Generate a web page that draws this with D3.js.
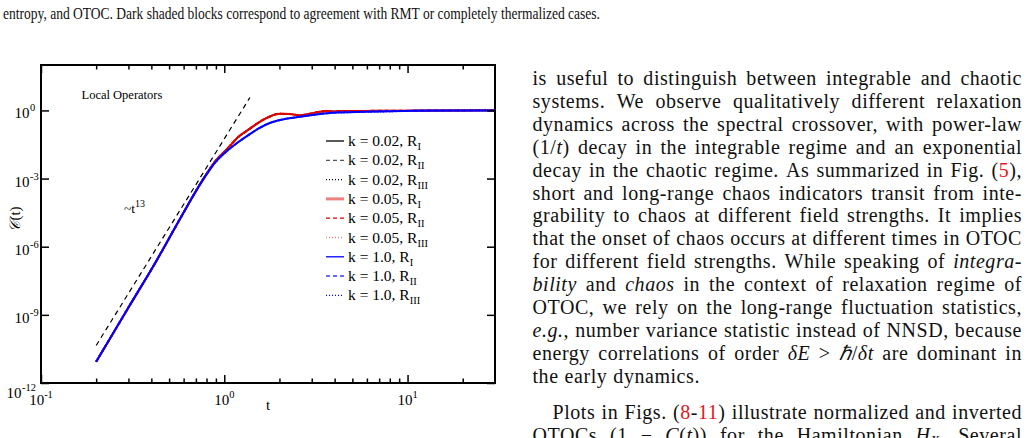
<!DOCTYPE html>
<html><head><meta charset="utf-8">
<script src="https://cdn.jsdelivr.net/npm/d3@7"></script>
<style>body{margin:0;background:#fff;overflow:hidden}svg{display:block}</style>
</head><body>
<svg id="c" width="1029" height="438"></svg>
<script>
// ---------- data ----------
const tK002 = [0.2, 0.3, 0.43, 0.57, 0.77, 0.9, 1.03, 1.2, 1.38, 1.56, 1.77, 2.0, 2.28, 2.58, 2.92, 3.31, 3.6, 3.9, 4.5, 6, 10, 20, 30];
const cK002 = [8.7e-12, 2.1e-9, 2.7e-7, 1.55e-5, 1.0e-3, 6.3e-3, 1.9e-2, 7.1e-2, 0.158, 0.316, 0.537, 0.708, 0.692, 0.617, 0.708, 0.871, 0.933, 0.891, 0.933, 0.955, 0.977, 1.0, 1.02];
const tK005 = [0.2, 0.3, 0.43, 0.57, 0.77, 0.9, 1.03, 1.2, 1.38, 1.56, 1.77, 2.0, 2.28, 2.58, 2.92, 3.31, 3.6, 3.9, 4.5, 6, 10, 20, 30];
const cK005 = [8.7e-12, 2.1e-9, 2.7e-7, 1.55e-5, 1.0e-3, 6.3e-3, 1.9e-2, 7.1e-2, 0.158, 0.316, 0.537, 0.708, 0.692, 0.617, 0.708, 0.871, 0.933, 0.891, 0.933, 0.955, 0.977, 1.0, 1.02];
const tK10 = [0.2, 0.3, 0.43, 0.57, 0.77, 0.9, 1.03, 1.2, 1.38, 1.56, 1.77, 2.08, 2.58, 3.18, 3.9, 6, 11, 20, 30];
const cK10 = [8.7e-12, 2.1e-9, 2.7e-7, 1.55e-5, 9.5e-4, 5.6e-3, 1.6e-2, 4.2e-2, 9.1e-2, 0.17, 0.28, 0.40, 0.525, 0.66, 0.79, 0.87, 0.966, 1.0, 1.0];
const tGuide = [0.2, 1.38];
const cGuide = [4.5e-11, 3.7];

const legendLabels = ["k = 0.02, R", "k = 0.02, R", "k = 0.02, R", "k = 0.05, R", "k = 0.05, R", "k = 0.05, R", "k = 1.0, R", "k = 1.0, R", "k = 1.0, R"];
const legendSubs = ["I", "II", "III", "I", "II", "III", "I", "II", "III"];

const xMajorTicks = [0.1, 1, 10];
const xMinorTicks = [0.2,0.3,0.4,0.5,0.6,0.7,0.8,0.9,2,3,4,5,6,7,8,9,20];
const xTickExps = ["-1", "0", "1"];
const yMajorTicks = [1e-12, 1e-9, 1e-6, 1e-3, 1e0];
const yTickExps = ["-12", "-9", "-6", "-3", "0"];

const captionText = "entropy, and OTOC. Dark shaded blocks correspond to agreement with RMT or completely thermalized cases.";
const para1 = [
 "is useful to distinguish between integrable and chaotic",
 "systems. We observe qualitatively different relaxation",
 "dynamics across the spectral crossover, with power-law",
 "(1/{i:t}) decay in the integrable regime and an exponential",
 "decay in the chaotic regime. As summarized in Fig. ({r:5}),",
 "short and long-range chaos indicators transit from inte-",
 "grability to chaos at different field strengths. It implies",
 "that the onset of chaos occurs at different times in OTOC",
 "for different field strengths. While speaking of {i:integra-}",
 "{i:bility} and {i:chaos} in the context of relaxation regime of",
 "OTOC, we rely on the long-range fluctuation statistics,",
 "{i:e.g.}, number variance statistic instead of NNSD, because",
 "energy correlations of order {i:δE} > {i:ℏ}/{i:δt} are dominant in",
 "the early dynamics."
];
const para2 = [
 "Plots in Figs. ({r:8}-{r:11}) illustrate normalized and inverted",
 "OTOCs (1 − {i:C}({i:t})) for the Hamiltonian {i:H}{s:X}. Several"
];

// ---------- chart ----------
const svg = d3.select("#c");
const serif = "'Liberation Serif','Times New Roman',serif";
const X0 = 41, X1 = 495, Y0 = 383, Y1 = 65;
const x = d3.scaleLog().domain([0.1, 30]).range([X0, X1]);
const y = d3.scaleLog().domain([1e-12, 1e2]).range([Y0, Y1]);

const plot = svg.append("g");
plot.append("defs").append("clipPath").attr("id","clip")
  .append("rect").attr("x",X0).attr("y",Y1).attr("width",X1-X0).attr("height",Y0-Y1);

const line = d3.line().x(d=>x(d[0])).y(d=>y(d[1])).curve(d3.curveMonotoneX);
const zip = (a,b)=>a.map((v,i)=>[v,b[i]]);

const series = [
  {t:tK002, c:cK002, color:"#000", w:1.5, dash:null},
  {t:tK002, c:cK002, color:"#555", w:1.5, dash:"4,3"},
  {t:tK002, c:cK002, color:"#000", w:1.5, dash:"1,2"},
  {t:tK005, c:cK005, color:"#f08080", w:2.5, dash:"1,2"},
  {t:tK005, c:cK005, color:"#e00000", w:2, dash:"4,3"},
  {t:tK005, c:cK005, color:"#e00000", w:2, dash:null},
  {t:tK10, c:cK10, color:"#0000ff", w:2, dash:"1,2"},
  {t:tK10, c:cK10, color:"#6060ff", w:2, dash:"4,3"},
  {t:tK10, c:cK10, color:"#0000ff", w:2, dash:null}
];
const lines = plot.append("g").attr("clip-path","url(#clip)");
series.forEach(s=>{
  lines.append("path").datum(zip(s.t,s.c)).attr("d",line)
    .attr("fill","none").attr("stroke",s.color).attr("stroke-width",s.w)
    .attr("stroke-dasharray",s.dash);
});
lines.append("path").datum(zip(tGuide,cGuide)).attr("d",d3.line().x(d=>x(d[0])).y(d=>y(d[1])))
  .attr("fill","none").attr("stroke","#000").attr("stroke-width",1.2).attr("stroke-dasharray","5,4");

// axes (ticks inward)
function tickAxis(axisFn, scale, vals, size, transform){
  const g = plot.append("g").attr("transform",transform)
    .call(axisFn(scale).tickValues(vals).tickSize(size).tickFormat(""));
  g.select(".domain").remove();
  g.selectAll("line").attr("stroke","#000").attr("stroke-width",1.5);
}
tickAxis(d3.axisBottom, x, xMajorTicks, -8, `translate(0,${Y0})`);
tickAxis(d3.axisBottom, x, xMinorTicks, -4.5, `translate(0,${Y0})`);
tickAxis(d3.axisTop, x, xMajorTicks, -8, `translate(0,${Y1})`);
tickAxis(d3.axisTop, x, xMinorTicks, -4.5, `translate(0,${Y1})`);
tickAxis(d3.axisLeft, y, yMajorTicks, -8, `translate(${X0},0)`);
tickAxis(d3.axisRight, y, yMajorTicks, -8, `translate(${X1},0)`);

plot.append("rect").attr("x",X0).attr("y",Y1).attr("width",X1-X0).attr("height",Y0-Y1)
  .attr("fill","none").attr("stroke","#000").attr("stroke-width",2);

// tick labels
xMajorTicks.forEach((v,i)=>{
  const t = plot.append("text").attr("x",x(v)).attr("y",405).attr("text-anchor","middle")
    .attr("font-family",serif).attr("font-size",15).attr("fill","#000");
  t.append("tspan").text("10");
  t.append("tspan").attr("dy",-7).attr("font-size",10.5).text(xTickExps[i]);
});
yMajorTicks.forEach((v,i)=>{
  const g = plot.append("g");
  g.append("text").attr("x",29.5).attr("y",y(v)+8).attr("text-anchor","end")
    .attr("font-family",serif).attr("font-size",15).text("10");
  const ex = g.append("text").attr("x",30).attr("y",y(v)+1).attr("font-family",serif)
    .attr("font-size",10.5).text(yTickExps[i]);
  const end = 30 + ex.node().getComputedTextLength();
  if (end > 41) { const sh = end - 36; g.attr("transform",`translate(${-sh},7)`); }
});

// axis titles
plot.append("text").attr("x",268).attr("y",410).attr("text-anchor","middle")
  .attr("font-family",serif).attr("font-size",15).text("t");
const yl = plot.append("text").attr("transform","translate(20,219) rotate(-90)")
  .attr("text-anchor","middle").attr("font-family",serif).attr("font-size",15);
yl.append("tspan").attr("font-style","italic").text("𝒞");
yl.append("tspan").text("(t)");

plot.append("text").attr("x",81.5).attr("y",99).attr("font-family",serif).attr("font-size",12.5).text("Local Operators");
const gt = plot.append("text").attr("x",124).attr("y",213).attr("font-family",serif).attr("font-size",13.5);
gt.append("tspan").text("~t");
gt.append("tspan").attr("dy",-6).attr("font-size",10).text("13");

// legend
const legendStyles = [
  {color:"#000", w:1.3, dash:null},
  {color:"#555", w:1.3, dash:"4,3"},
  {color:"#000", w:1.2, dash:"1,2"},
  {color:"#f08080", w:3, dash:null},
  {color:"#e00000", w:1.3, dash:"4,3"},
  {color:"#f08080", w:1.3, dash:"1,2"},
  {color:"#0000ff", w:1.3, dash:null},
  {color:"#6a6aff", w:2, dash:"4,3"},
  {color:"#0000ff", w:1.2, dash:"1,2"}
];
const leg = plot.append("g");
legendLabels.forEach((lab,i)=>{
  const yy = 141 + i*19.3;
  const st = legendStyles[i];
  leg.append("line").attr("x1",326).attr("x2",344).attr("y1",yy).attr("y2",yy)
    .attr("stroke",st.color).attr("stroke-width",st.w).attr("stroke-dasharray",st.dash);
  const t = leg.append("text").attr("x",348).attr("y",yy+5).attr("font-family",serif).attr("font-size",15.5);
  t.append("tspan").text(lab);
  t.append("tspan").attr("dy",4).attr("font-size",10.5).text(legendSubs[i]);
});

// ---------- surrounding text ----------
svg.append("text").attr("x",3).attr("y",18.5).attr("font-family",serif).attr("font-size",16)
  .attr("textLength",597).attr("lengthAdjust","spacingAndGlyphs")
  .attr("fill","#111").text(captionText);

const TL = 532.5, TR = 1022, FS = 20, LS = 0.55;
function parseWord(w){
  const pieces=[]; const re=/\{(\w):([^}]*)\}|([^{]+)/g; let m;
  while((m=re.exec(w))){ if(m[3]!==undefined) pieces.push({s:"n",t:m[3]}); else pieces.push({s:m[1],t:m[2]}); }
  return pieces;
}
function drawLine(str, yy, left, justify){
  const words = str.split(/\s+/).filter(s=>s.length);
  const nodes = words.map(w=>{
    const t = svg.append("text").attr("y",yy).attr("font-family",serif).attr("font-size",FS)
      .attr("letter-spacing",LS).attr("fill","#111");
    parseWord(w).forEach(p=>{
      const ts = t.append("tspan").text(p.t);
      if(p.s==="i") ts.attr("font-style","italic");
      if(p.s==="r") ts.attr("fill","#e8141c");
      if(p.s==="s") ts.attr("font-size",14).attr("dy",4).attr("font-style","italic");
    });
    return t;
  });
  const widths = nodes.map(n=>n.node().getComputedTextLength());
  const total = d3.sum(widths);
  const gap = justify && nodes.length>1 ? (TR-left-total)/(nodes.length-1) : FS*0.3;
  let cx = left;
  nodes.forEach((n,i)=>{ n.attr("x",cx); cx += widths[i]+gap; });
}
para1.forEach((s,i)=> drawLine(s, 85 + i*22.9, TL, i < para1.length-1));
para2.forEach((s,i)=> drawLine(s, 419 + i*22.9, i===0 ? TL+20 : TL, true));
</script>
</body></html>
